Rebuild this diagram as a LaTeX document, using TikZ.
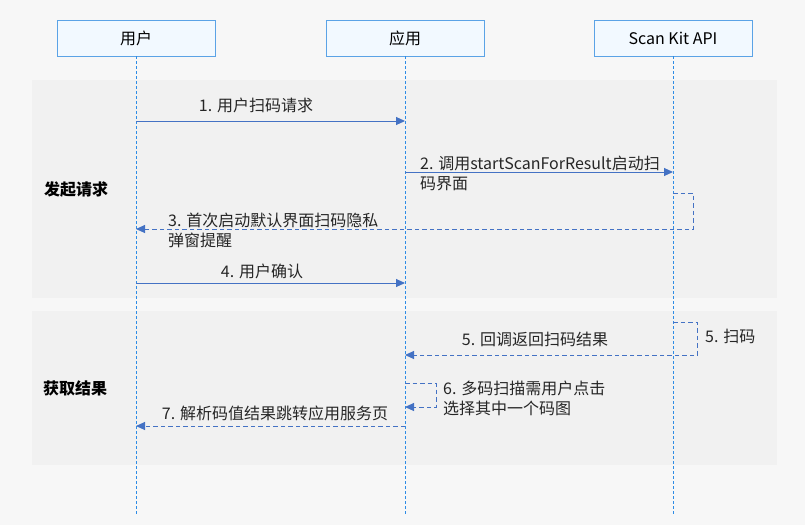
\documentclass[tikz,border=0pt]{standalone}
\usepackage{fontspec}
\setmainfont{Noto Sans CJK SC}
\usetikzlibrary{arrows.meta}
\definecolor{bgc}{HTML}{F7F7F7}
\definecolor{panelc}{HTML}{F1F1F1}
\definecolor{lifec}{HTML}{2D8CE6}
\definecolor{arrc}{HTML}{4472C4}
\definecolor{boxline}{HTML}{5BA3E6}
\definecolor{boxfill}{HTML}{F2F9FF}
\tikzset{
  hbox/.style={draw=boxline, fill=boxfill, line width=0.9pt, minimum width=158pt, minimum height=36pt, inner sep=0pt, font=\fontsize{16}{20}\selectfont},
  lifeline/.style={draw=lifec, line width=0.8pt, dash pattern=on 3pt off 2pt},
  msg/.style={draw=arrc, line width=1pt, -{Triangle[length=9pt,width=8pt]}},
  ret/.style={draw=arrc, line width=1pt, dash pattern=on 4.5pt off 3pt, -{Triangle[length=9pt,width=8pt]}},
  loopl/.style={draw=arrc!80, line width=1pt, dash pattern=on 4.5pt off 3pt},
  lbl/.style={inner sep=0pt, font=\fontsize{16}{20}\selectfont, text=black!85},
  lblml/.style={lbl, align=left, anchor=west},
  sect/.style={inner sep=0pt, anchor=west, font=\fontsize{16}{20}\selectfont\bfseries},
  panel/.style={fill=panelc, draw=none}
}
\begin{document}
\begin{tikzpicture}[x=1pt,y=-1pt]
\useasboundingbox (0,0) rectangle (805,525);
\fill[bgc] (0,0) rectangle (805,525);
\fill[panelc] (32,80) rectangle (777,298);
\fill[panelc] (32,311) rectangle (777,465);

\node[hbox] (user) at (136,38) {用户};
\node[hbox] (app) at (405,38) {应用};
\node[hbox] (scan) at (673,38) {Scan Kit API};

\coordinate (userEnd) at (136,516);
\coordinate (appEnd) at (405,516);
\coordinate (scanEnd) at (673,516);
\draw[lifeline] (user.south) -- (userEnd);
\draw[lifeline] (app.south) -- (appEnd);
\draw[lifeline] (scan.south) -- (scanEnd);

\node[sect] (s1) at (44,189) {发起请求};
\node[sect] (s2) at (43,388) {获取结果};

% 1
\coordinate (u1) at (136,121);
\coordinate (a1) at (405,121);
\draw[msg] (u1) -- (a1);
\node[lbl] (l1) at (256,105) {1. 用户扫码请求};

% 2
\coordinate (a2) at (405,172);
\coordinate (s2a) at (673,172);
\draw[msg] (a2) -- (s2a);
\node[lblml] (l2) at (420,173) {2. 调用startScanForResult启动扫\\码界面};

% 3
\coordinate (s3a) at (673,193);
\coordinate (s3b) at (693,193);
\coordinate (s3c) at (693,229);
\coordinate (u3) at (136,229);
\draw[ret] (s3a) -- (s3b) -- (s3c) -- (u3);
\node[lblml] (l3) at (168,230) {3. 首次启动默认界面扫码隐私\\弹窗提醒};

% 4
\coordinate (u4) at (136,283);
\coordinate (a4) at (405,283);
\draw[msg] (u4) -- (a4);
\node[lbl] (l4) at (262,271) {4. 用户确认};

% 5 scan
\coordinate (s5a) at (673,322);
\coordinate (s5b) at (697,322);
\coordinate (s5c) at (697,355);
\coordinate (a5) at (405,355);
\draw[ret] (s5a) -- (s5b) -- (s5c) -- (a5);
\node[lblml] (l5s) at (705,336) {5. 扫码};
\node[lbl] (l5) at (535,339) {5. 回调返回扫码结果};

% 6
\coordinate (a6a) at (405,383);
\coordinate (a6b) at (436,383);
\coordinate (a6c) at (436,407);
\coordinate (a6d) at (405,407);
\draw[ret] (a6a) -- (a6b) -- (a6c) -- (a6d);
\node[lblml] (l6) at (443,398) {6. 多码扫描需用户点击\\选择其中一个码图};

% 7
\coordinate (a7) at (405,426);
\coordinate (u7) at (136,426);
\draw[ret] (a7) -- (u7);
\node[lbl] (l7) at (275,413) {7. 解析码值结果跳转应用服务页};
\end{tikzpicture}
\end{document}
